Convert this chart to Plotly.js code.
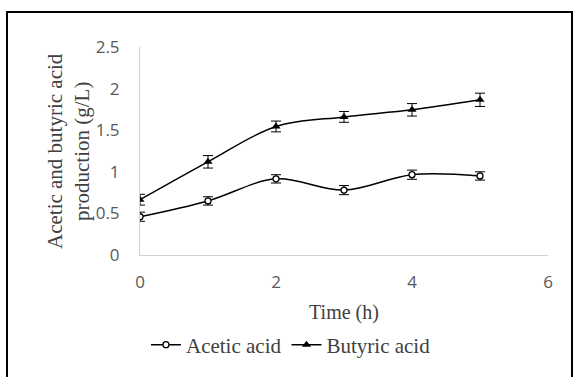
<!DOCTYPE html>
<html>
<head>
<meta charset="utf-8">
<script src="https://cdn.plot.ly/plotly-3.0.1.min.js"></script>
<style>html,body{margin:0;padding:0;background:#fff;}#chart{width:575px;height:377px;}</style>
</head>
<body>
<div id="chart"></div>
<script>
const timeH = [0, 1, 2, 3, 4, 5];
const aceticAcid = [0.46, 0.65, 0.915, 0.78, 0.965, 0.95];
const aceticErr = [0.055, 0.05, 0.05, 0.055, 0.055, 0.05];
const butyricAcid = [0.665, 1.12, 1.545, 1.66, 1.745, 1.865];
const butyricErr = [0.065, 0.075, 0.065, 0.065, 0.075, 0.08];
const xTicks = [0, 2, 4, 6];
const yTicks = [0, 0.5, 1, 1.5, 2, 2.5];
const yTickText = ['0', '0.5', '1', '1.5', '2', '2.5'];
const yTitleLines = ['Acetic and butyric acid', 'production (g/L)'];

const serif = 'Liberation Serif, Times New Roman, serif';
const sans = 'Open Sans, Noto Sans, sans-serif';

const traces = [
  {
    x: timeH, y: aceticAcid, name: 'Acetic acid', type: 'scatter', mode: 'lines+markers',
    line: {color: '#000', width: 1.5, shape: 'spline', smoothing: 1},
    marker: {symbol: 'circle', size: 6, color: '#fff', line: {color: '#000', width: 1.3}},
    error_y: {type: 'data', array: aceticErr, visible: true, color: '#000', thickness: 1, width: 5}
  },
  {
    x: timeH, y: butyricAcid, name: 'Butyric acid', type: 'scatter', mode: 'lines+markers',
    line: {color: '#000', width: 1.5, shape: 'spline', smoothing: 1},
    marker: {symbol: 'triangle-up', size: 8, color: '#000'},
    error_y: {type: 'data', array: butyricErr, visible: true, color: '#000', thickness: 1, width: 5}
  }
];

const layout = {
  width: 575, height: 377,
  margin: {l: 140, r: 27, t: 47, b: 122},
  paper_bgcolor: '#fff', plot_bgcolor: '#fff',
  showlegend: true,
  xaxis: {
    range: [0, 6], tickvals: xTicks, showgrid: false, zeroline: false,
    showline: true, linecolor: '#d0d0d0', linewidth: 1, ticks: '',
    ticklabelstandoff: 12,
    tickfont: {family: sans, size: 17, color: '#595959'},
    title: {text: 'Time (h)', font: {family: serif, size: 20, color: '#404040'}, standoff: 12}
  },
  yaxis: {
    range: [0, 2.5], tickvals: yTicks, ticktext: yTickText, showgrid: false, zeroline: false,
    showline: true, linecolor: '#d0d0d0', linewidth: 1, ticks: '',
    ticklabelstandoff: 16,
    tickfont: {family: sans, size: 17, color: '#595959'}
  },
  annotations: [
    {text: yTitleLines[0], xref: 'paper', yref: 'paper', x: -0.2083, y: 0.5, textangle: -90,
     showarrow: false, xanchor: 'center', yanchor: 'middle', font: {family: serif, size: 21, color: '#404040'}},
    {text: yTitleLines[1], xref: 'paper', yref: 'paper', x: -0.1422, y: 0.5, textangle: -90,
     showarrow: false, xanchor: 'center', yanchor: 'middle', font: {family: serif, size: 21, color: '#404040'}}
  ],
  legend: {
    orientation: 'h', x: 0.37, xanchor: 'center', y: -0.433, yanchor: 'middle',
    font: {family: serif, size: 21, color: '#404040'}, bgcolor: 'rgba(0,0,0,0)'
  },
  shapes: [
    {type: 'rect', xref: 'paper', yref: 'paper', x0: -0.326, x1: 1.0588, y0: -0.62, y1: 1.168,
     line: {color: '#000', width: 2}, fillcolor: 'rgba(0,0,0,0)', layer: 'above'}
  ]
};

Plotly.newPlot('chart', traces, layout, {displayModeBar: false, staticPlot: true});
</script>
</body>
</html>
